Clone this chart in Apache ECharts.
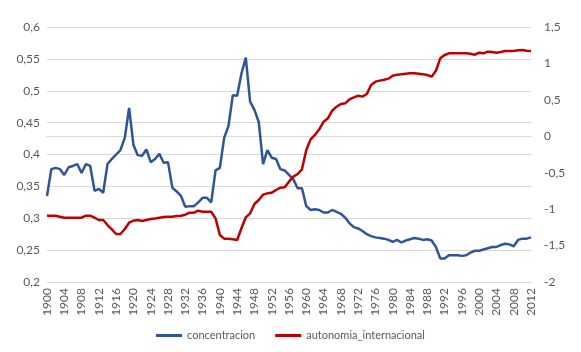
<!DOCTYPE html>
<html>
<head>
<meta charset="utf-8">
<script src="https://cdn.jsdelivr.net/npm/echarts@6/dist/echarts.min.js"></script>
<style>
  html, body { margin: 0; padding: 0; background: #fff; }
  #container { width: 581px; height: 352px; }
</style>
</head>
<body>
<div id="container"></div>
<script>
// years 1900..2012
var years = [];
for (var y = 1900; y <= 2012; y++) years.push(String(y));

var concentracion = [
  0.335, 0.377, 0.379, 0.377, 0.368, 0.380, 0.382, 0.385, 0.371, 0.385,
  0.382, 0.343, 0.346, 0.340, 0.385, 0.393, 0.400, 0.407, 0.426, 0.473,
  0.415, 0.399, 0.398, 0.408, 0.388, 0.393, 0.401, 0.387, 0.388, 0.348,
  0.342, 0.335, 0.318, 0.319, 0.319, 0.325, 0.332, 0.332, 0.325, 0.375,
  0.379, 0.426, 0.445, 0.493, 0.492, 0.527, 0.552, 0.483, 0.470, 0.451,
  0.385, 0.407, 0.395, 0.393, 0.377, 0.375, 0.368, 0.361, 0.347, 0.347,
  0.319, 0.313, 0.314, 0.313, 0.309, 0.309, 0.313, 0.310, 0.307, 0.301,
  0.292, 0.286, 0.284, 0.280, 0.275, 0.272, 0.270, 0.269, 0.268, 0.266,
  0.263, 0.266, 0.262, 0.265, 0.267, 0.269, 0.268, 0.266, 0.267, 0.265,
  0.255, 0.237, 0.237, 0.242, 0.242, 0.242, 0.241, 0.242, 0.246, 0.249,
  0.249, 0.251, 0.253, 0.255, 0.255, 0.258, 0.260, 0.259, 0.256, 0.266,
  0.268, 0.268, 0.270
];

var autonomia = [
  -1.090, -1.090, -1.090, -1.104, -1.117, -1.117, -1.117, -1.117, -1.117, -1.090,
  -1.090, -1.117, -1.149, -1.149, -1.218, -1.277, -1.341, -1.341, -1.272, -1.186,
  -1.158, -1.149, -1.163, -1.149, -1.135, -1.127, -1.117, -1.108, -1.104, -1.104,
  -1.095, -1.090, -1.076, -1.048, -1.048, -1.021, -1.035, -1.035, -1.035, -1.126,
  -1.355, -1.405, -1.405, -1.414, -1.423, -1.263, -1.112, -1.057, -0.929, -0.874,
  -0.801, -0.783, -0.774, -0.737, -0.705, -0.701, -0.623, -0.554, -0.518, -0.453,
  -0.188, -0.042, 0.018, 0.096, 0.200, 0.247, 0.351, 0.406, 0.443, 0.452,
  0.507, 0.535, 0.557, 0.544, 0.580, 0.704, 0.750, 0.764, 0.777, 0.791,
  0.832, 0.846, 0.850, 0.859, 0.864, 0.864, 0.859, 0.850, 0.841, 0.818,
  0.900, 1.070, 1.116, 1.139, 1.139, 1.139, 1.139, 1.139, 1.134, 1.120,
  1.148, 1.139, 1.162, 1.157, 1.148, 1.157, 1.171, 1.171, 1.171, 1.180,
  1.185, 1.175, 1.171
];

function comma(v) {
  return String(Math.round(v * 100) / 100).replace('.', ',');
}

var dom = document.getElementById('container');
var myChart = echarts.init(dom);
var labelFont = 'Lato, "Open Sans", sans-serif';

option = {
  animation: false,
  backgroundColor: '#ffffff',
  textStyle: { fontFamily: labelFont },
  grid: {
    left: 47,
    right: 50,
    top: 27,
    bottom: 70
  },
  legend: {
    bottom: 6,
    left: 'center',
    icon: 'rect',
    itemWidth: 26,
    itemHeight: 3,
    itemGap: 20,
    textStyle: { color: '#595959', fontSize: 11, fontFamily: labelFont },
    data: ['concentracion', 'autonomia_internacional']
  },
  xAxis: {
    type: 'category',
    data: years,
    boundaryGap: false,
    axisLine: { lineStyle: { color: '#d9d9d9' } },
    axisTick: { show: false },
    axisLabel: {
      interval: 3,
      rotate: 90,
      color: '#595959',
      fontSize: 12,
      margin: 6
    },
    splitLine: { show: false }
  },
  yAxis: [
    {
      type: 'value',
      min: 0.2,
      max: 0.6,
      interval: 0.05,
      axisLine: { show: false },
      axisTick: { show: false },
      axisLabel: {
        color: '#595959',
        fontSize: 12,
        margin: 7,
        formatter: comma
      },
      splitLine: { lineStyle: { color: '#d9d9d9', width: 1 } }
    },
    {
      type: 'value',
      min: -2,
      max: 1.5,
      interval: 0.5,
      position: 'right',
      axisLine: { show: false },
      axisTick: { show: false },
      axisLabel: {
        color: '#595959',
        fontSize: 12,
        margin: 13,
        formatter: comma
      },
      splitLine: { show: false }
    }
  ],
  series: [
    {
      name: 'concentracion',
      type: 'line',
      yAxisIndex: 0,
      symbol: 'none',
      lineStyle: { color: '#2f5597', width: 2.5 },
      itemStyle: { color: '#2f5597' },
      data: concentracion
    },
    {
      name: 'autonomia_internacional',
      type: 'line',
      yAxisIndex: 1,
      symbol: 'none',
      lineStyle: { color: '#c00000', width: 2.5 },
      itemStyle: { color: '#c00000' },
      data: autonomia
    }
  ]
};

myChart.setOption(option);
</script>
</body>
</html>
